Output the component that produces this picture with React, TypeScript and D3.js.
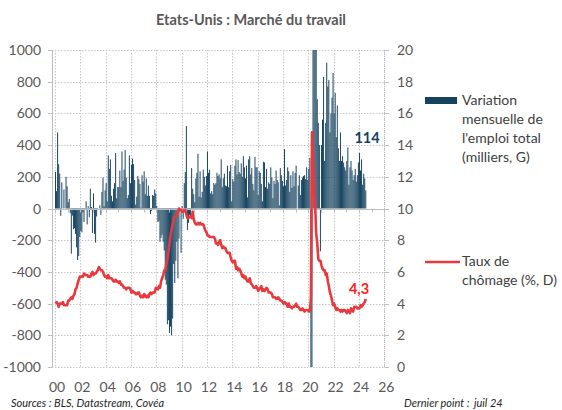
import React from 'react';
import * as d3 from 'd3';

// Variation mensuelle de l'emploi total (milliers), janv. 2000 -> juil. 2024
const emploi2000 = [230, 110, 480, 280, 220, -46, 165, 0, 120, 0, 200, 140];
const emploi2001 = [40, 60, -30, -285, -45, -130, -125, -160, -245, -325, -300, -180];
const emploi2002 = [-140, -150, -25, -85, -10, 45, -100, 15, -55, 125, 10, -155];
const emploi2003 = [95, -160, -215, -50, -10, 0, 20, -40, 105, 195, 15, 115];
const emploi2004 = [160, 45, 335, 250, 310, 80, 45, 125, 160, 350, 65, 135];
const emploi2005 = [135, 240, 135, 360, 175, 245, 370, 195, 65, 85, 335, 160];
const emploi2006 = [275, 315, 280, 180, 25, 75, 205, 185, 155, 5, 210, 170];
const emploi2007 = [235, 90, 190, 80, 145, 80, -35, -15, 85, 80, 120, 95];
const emploi2008 = [15, -85, -80, -210, -185, -165, -210, -265, -450, -480, -730, -705];
const emploi2009 = [-785, -745, -800, -695, -350, -470, -330, -210, -440, -190, 0, -280];
const emploi2010 = [15, -65, 160, 230, 520, -135, -90, -40, -55, 255, 125, 90];
const emploi2011 = [40, 190, 225, 345, 75, 235, 70, 105, 245, 200, 145, 205];
const emploi2012 = [360, 225, 245, 95, 110, 90, 160, 150, 160, 225, 205, 215];
const emploi2013 = [190, 310, 135, 190, 220, 145, 140, 270, 135, 235, 275, 45];
const emploi2014 = [185, 170, 270, 310, 215, 305, 230, 220, 285, 200, 330, 260];
const emploi2015 = [190, 270, 70, 310, 330, 215, 255, 155, 115, 325, 260, 260];
const emploi2016 = [85, 235, 225, 155, 45, 295, 290, 135, 250, 125, 165, 155];
const emploi2017 = [260, 195, 65, 175, 155, 240, 180, 165, 20, 255, 210, 175];
const emploi2018 = [140, 375, 145, 180, 260, 235, 105, 210, 130, 235, 140, 225];
const emploi2019 = [270, 0, 145, 210, 85, 180, 195, 205, 210, 185, 260, 180];
const emploi2020 = [250, 320, -1375, -20480, 2830, 4845, 1725, 1585, 690, 540, 400, -270];
const emploi2021 = [400, 560, 830, 300, 540, 920, 770, 810, 480, 600, 700, 855];
const emploi2022 = [600, 730, 450, 650, 380, 300, 480, 300, 330, 290, 260, 240];
const emploi2023 = [300, 385, 150, 260, 300, 240, 180, 210, 250, 170, 210, 290];
const emploi2024 = [350, 240, 310, 150, 220, 190, 114];

// Taux de chômage (%)
const chomage2000 = [4.0, 4.1, 4.0, 3.8, 4.0, 4.0, 4.0, 4.1, 3.9, 3.9, 3.9, 3.9];
const chomage2001 = [4.2, 4.2, 4.3, 4.4, 4.3, 4.5, 4.6, 4.9, 5.0, 5.3, 5.5, 5.7];
const chomage2002 = [5.7, 5.7, 5.7, 5.9, 5.8, 5.8, 5.8, 5.7, 5.7, 5.7, 5.9, 6.0];
const chomage2003 = [5.8, 5.9, 5.9, 6.0, 6.1, 6.3, 6.2, 6.1, 6.1, 6.0, 5.8, 5.7];
const chomage2004 = [5.7, 5.6, 5.8, 5.6, 5.6, 5.6, 5.5, 5.4, 5.4, 5.5, 5.4, 5.4];
const chomage2005 = [5.3, 5.4, 5.2, 5.2, 5.1, 5.0, 5.0, 4.9, 5.0, 5.0, 5.0, 4.9];
const chomage2006 = [4.7, 4.8, 4.7, 4.7, 4.6, 4.6, 4.7, 4.7, 4.5, 4.4, 4.5, 4.4];
const chomage2007 = [4.6, 4.5, 4.4, 4.5, 4.4, 4.6, 4.7, 4.6, 4.7, 4.7, 4.7, 5.0];
const chomage2008 = [5.0, 4.9, 5.1, 5.0, 5.4, 5.6, 5.8, 6.1, 6.1, 6.5, 6.8, 7.3];
const chomage2009 = [7.8, 8.3, 8.7, 9.0, 9.4, 9.5, 9.5, 9.6, 9.8, 10.0, 9.9, 9.9];
const chomage2010 = [9.8, 9.8, 9.9, 9.9, 9.6, 9.4, 9.4, 9.5, 9.5, 9.4, 9.8, 9.3];
const chomage2011 = [9.1, 9.0, 9.0, 9.1, 9.0, 9.1, 9.0, 9.0, 9.0, 8.8, 8.6, 8.5];
const chomage2012 = [8.3, 8.3, 8.2, 8.2, 8.2, 8.2, 8.2, 8.1, 7.8, 7.8, 7.7, 7.9];
const chomage2013 = [8.0, 7.7, 7.5, 7.6, 7.5, 7.5, 7.3, 7.2, 7.2, 7.2, 6.9, 6.7];
const chomage2014 = [6.6, 6.7, 6.7, 6.2, 6.3, 6.1, 6.2, 6.1, 5.9, 5.7, 5.8, 5.6];
const chomage2015 = [5.7, 5.5, 5.4, 5.4, 5.6, 5.3, 5.2, 5.1, 5.0, 5.0, 5.1, 5.0];
const chomage2016 = [4.8, 4.9, 5.0, 5.1, 4.8, 4.9, 4.8, 4.9, 5.0, 4.9, 4.7, 4.7];
const chomage2017 = [4.7, 4.6, 4.4, 4.4, 4.4, 4.3, 4.3, 4.4, 4.3, 4.2, 4.2, 4.1];
const chomage2018 = [4.0, 4.1, 4.0, 4.0, 3.8, 4.0, 3.8, 3.8, 3.7, 3.8, 3.8, 3.9];
const chomage2019 = [4.0, 3.8, 3.8, 3.7, 3.6, 3.6, 3.7, 3.6, 3.5, 3.6, 3.6, 3.6];
const chomage2020 = [3.5, 3.5, 4.4, 14.8, 13.2, 11.0, 10.2, 8.4, 7.8, 6.8, 6.7, 6.7];
const chomage2021 = [6.4, 6.2, 6.1, 6.1, 5.8, 5.9, 5.4, 5.1, 4.7, 4.5, 4.2, 3.9];
const chomage2022 = [4.0, 3.8, 3.6, 3.7, 3.6, 3.6, 3.5, 3.6, 3.5, 3.6, 3.6, 3.5];
const chomage2023 = [3.4, 3.6, 3.5, 3.4, 3.7, 3.6, 3.5, 3.8, 3.8, 3.8, 3.7, 3.7];
const chomage2024 = [3.7, 3.9, 3.8, 3.9, 4.0, 4.1, 4.3];

const leftTicks = [-1000, -800, -600, -400, -200, 0, 200, 400, 600, 800, 1000];
const rightTicks = [0, 2, 4, 6, 8, 10, 12, 14, 16, 18, 20];
const yearTicks = [2000, 2002, 2004, 2006, 2008, 2010, 2012, 2014, 2016, 2018, 2020, 2022, 2024, 2026];

const emploi = [
  emploi2000, emploi2001, emploi2002, emploi2003, emploi2004, emploi2005, emploi2006,
  emploi2007, emploi2008, emploi2009, emploi2010, emploi2011, emploi2012, emploi2013,
  emploi2014, emploi2015, emploi2016, emploi2017, emploi2018, emploi2019, emploi2020,
  emploi2021, emploi2022, emploi2023, emploi2024,
].flat();
const chomage = [
  chomage2000, chomage2001, chomage2002, chomage2003, chomage2004, chomage2005, chomage2006,
  chomage2007, chomage2008, chomage2009, chomage2010, chomage2011, chomage2012, chomage2013,
  chomage2014, chomage2015, chomage2016, chomage2017, chomage2018, chomage2019, chomage2020,
  chomage2021, chomage2022, chomage2023, chomage2024,
].flat();

const NAVY = '#15425f';
const RED = '#e8393e';
const GREY_TXT = '#595959';
const FONT = 'Lato, "Open Sans", sans-serif';

export default function App() {
  const width = 562;
  const height = 410;

  const x = d3.scaleLinear().domain([2000, 2026]).range([55, 384.3]);
  const yL = d3.scaleLinear().domain([-1000, 1000]).range([367, 50]).clamp(true);
  const yR = d3.scaleLinear().domain([0, 20]).range([367, 50]);

  const t = (i: number) => 2000 + i / 12;
  const bw = (x(2001) - x(2000)) / 12;

  const line = d3.line<number>()
    .x((_, i) => x(t(i)) + bw / 2)
    .y(d => yR(d))
    .curve(d3.curveLinear);

  const minorYears = d3.range(2000, 2027);

  return (
    <svg width={width} height={height}
      style={{ position: 'absolute', left: 0, top: 0, background: '#fff', fontFamily: FONT }}>
      {/* titre */}
      <text x={251} y={25} textAnchor="middle" fontSize={14.5} fontWeight="bold" fill={GREY_TXT}>
        Etats-Unis : Marché du travail
      </text>

      {/* grille */}
      <g stroke="#c8c8c8" strokeWidth={1} strokeDasharray="1.5 1.5">
        {leftTicks.filter(v => v !== 0).map(v => (
          <line key={'h' + v} x1={52} x2={384.3} y1={Math.round(yL(v)) + 0.5} y2={Math.round(yL(v)) + 0.5} />
        ))}
        {yearTicks.map(v => (
          <line key={'v' + v} x1={Math.round(x(v)) + 0.5} x2={Math.round(x(v)) + 0.5} y1={50} y2={367} />
        ))}
      </g>

      {/* barres */}
      <g fill={NAVY}>
        {emploi.map((v, i) => {
          const y0 = yL(0);
          const y1 = yL(v);
          return (
            <rect key={i} x={x(t(i))} width={bw * 0.92}
              y={Math.min(y0, y1)} height={Math.abs(y1 - y0)} />
          );
        })}
      </g>

      {/* axe horizontal à zéro */}
      <line x1={52} x2={384.3} y1={Math.round(yL(0)) + 0.5} y2={Math.round(yL(0)) + 0.5} stroke="#bfbfbf" strokeWidth={1.2} />
      <g stroke="#bfbfbf">
        {minorYears.map(v => (
          <line key={'m' + v} x1={Math.round(x(v)) + 0.5} x2={Math.round(x(v)) + 0.5}
            y1={yL(0) + 0.5} y2={yL(0) + 4} />
        ))}
      </g>

      {/* axe gauche */}
      <line x1={52.5} x2={52.5} y1={50} y2={367} stroke="#bfbfbf" />
      <g stroke="#bfbfbf">
        {leftTicks.map(v => (
          <line key={'lt' + v} x1={48} x2={52.5} y1={Math.round(yL(v)) + 0.5} y2={Math.round(yL(v)) + 0.5} />
        ))}
      </g>
      <g fontSize={14} fill={GREY_TXT} textAnchor="end">
        {leftTicks.map(v => (
          <text key={'ll' + v} x={41} y={yL(v) + 5}>{v}</text>
        ))}
      </g>

      {/* axe droit */}
      <line x1={384.5} x2={384.5} y1={50} y2={367} stroke="#bfbfbf" strokeDasharray="1 1" />
      <g stroke="#bfbfbf">
        {rightTicks.map(v => (
          <line key={'rt' + v} x1={384.5} x2={389} y1={Math.round(yR(v)) + 0.5} y2={Math.round(yR(v)) + 0.5} />
        ))}
      </g>
      <g fontSize={14} fill={GREY_TXT} textAnchor="start">
        {rightTicks.map(v => (
          <text key={'rl' + v} x={397} y={yR(v) + 5}>{v}</text>
        ))}
      </g>

      {/* axe des années */}
      <g fontSize={14} fill={GREY_TXT} textAnchor="middle">
        {yearTicks.map(v => (
          <text key={'yl' + v} x={x(v) + 2} y={392}>{String(v % 100).padStart(2, '0')}</text>
        ))}
      </g>

      {/* chômage */}
      <path d={line(chomage) || ''} fill="none" stroke={RED} strokeWidth={2.6} strokeLinejoin="round" />

      {/* annotations */}
      <text x={367} y={143} textAnchor="middle" fontSize={14.5} fontWeight="bold" fill={NAVY}>
        {emploi[emploi.length - 1]}
      </text>
      <text x={359} y={294} textAnchor="middle" fontSize={14.5} fontWeight="bold" fill="#ff1a1a">
        {String(chomage[chomage.length - 1]).replace('.', ',')}
      </text>

      {/* légende */}
      <rect x={425} y={97} width={32} height={7} fill={NAVY} />
      <g fontSize={14} fill="#404040">
        <text x={462} y={105}>Variation</text>
        <text x={462} y={124}>mensuelle de</text>
        <text x={462} y={143}>l'emploi total</text>
        <text x={462} y={162}>(milliers, G)</text>
        <text x={462} y={266}>Taux de</text>
        <text x={462} y={285}>chômage (%, D)</text>
      </g>
      <line x1={425} x2={460} y1={262} y2={262} stroke={RED} strokeWidth={2.6} />

      {/* sources */}
      <g fontSize={11} fontStyle="italic" fill="#262626">
        <text x={11} y={407}>Sources : BLS, Datastream, Covéa</text>
        <text x={404} y={407}>Dernier point :</text>
        <text x={474} y={407}>juil 24</text>
      </g>
    </svg>
  );
}
